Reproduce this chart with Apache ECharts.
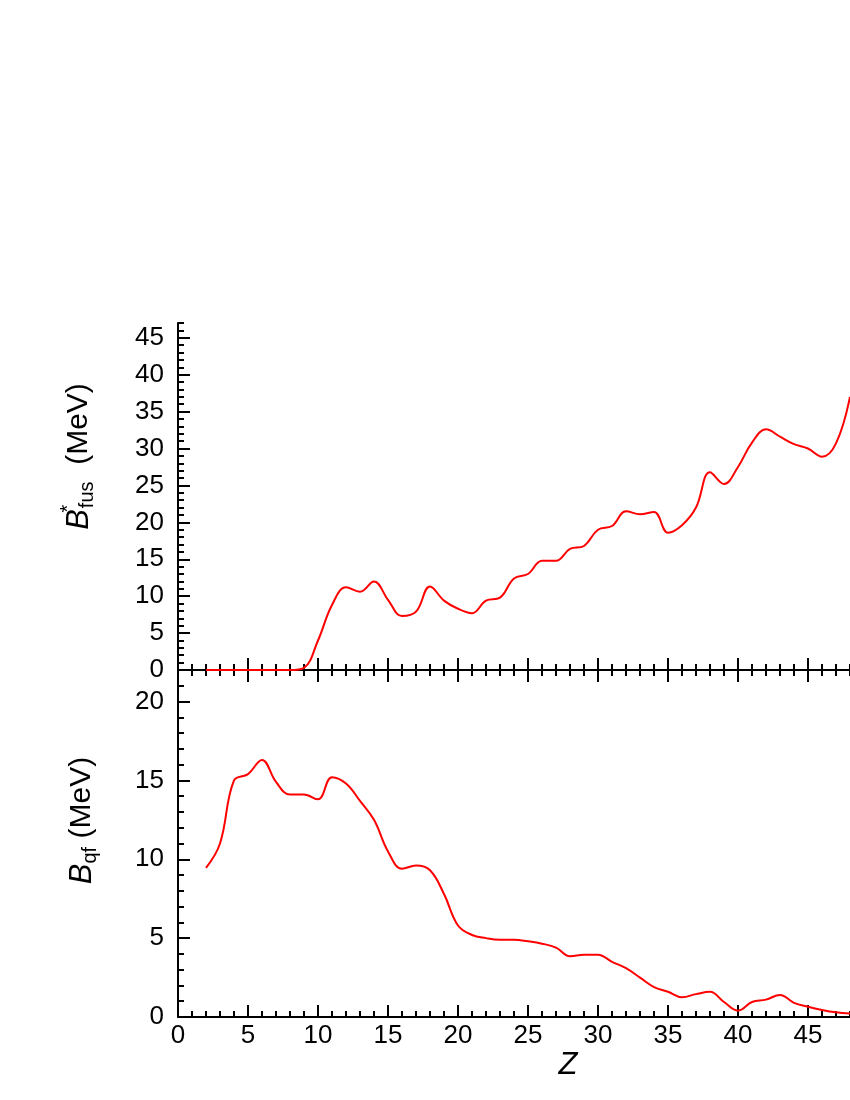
<!DOCTYPE html>
<html>
<head>
<meta charset="utf-8">
<script src="https://cdn.jsdelivr.net/npm/echarts@6/dist/echarts.min.js"></script>
<style>html,body{margin:0;padding:0;background:#fff;}#c{width:850px;height:1100px;}</style>
</head>
<body>
<div id="c"></div>
<script>
// ---- data ----
const zValues = [2,3,4,5,6,7,8,9,10,11,12,13,14,15,16,17,18,19,20,21,22,23,24,25,26,27,28,29,30,31,32,33,34,35,36,37,38,39,40,41,42,43,44,45,46,47,48];
const fusValues = [0,0,0,0,0,0,0,0.3,4.0,8.8,11.2,10.6,12.0,9.5,7.3,7.9,11.3,9.4,8.3,7.7,9.4,9.8,12.4,13.0,14.8,14.8,16.4,16.8,19.0,19.5,21.5,21.1,21.4,18.6,19.6,22.0,26.8,25.2,27.5,30.8,32.6,31.6,30.6,30.0,28.9,30.7,37.0];
const qfValues = [9.45,11.0,15.0,15.4,16.3,14.9,14.1,14.1,13.8,15.2,14.8,13.7,12.5,10.5,9.4,9.6,9.3,7.8,5.8,5.2,5.0,4.9,4.9,4.8,4.65,4.4,3.85,3.95,3.95,3.5,3.1,2.5,1.9,1.6,1.25,1.45,1.6,0.95,0.4,0.95,1.1,1.4,0.9,0.65,0.45,0.3,0.22];
const xTickLabels = [0,5,10,15,20,25,30,35,40,45];
const fusTickLabels = [0,5,10,15,20,25,30,35,40,45];
const qfTickLabels = [0,5,10,15,20];
const fusMax = 47, qfMax = 22, zMax = 50;

const FONT = 'Liberation Sans, Arial, Helvetica, sans-serif';
const BLACK = '#000';
const chart = echarts.init(document.getElementById('c'), null, {renderer:'canvas'});

// layout (pixels)
const L = 178, W = 700, H = 347, TOP0 = 323, TOP1 = 670;
const lastFus = fusTickLabels[fusTickLabels.length-1];
const lastQf = qfTickLabels[qfTickLabels.length-1];
const hMajor0 = H * lastFus / fusMax;
const hMajor1 = H * lastQf / qfMax;

const lineSt = {color: BLACK, width: 2};
const hiddenLine = {show:true, onZero:false, lineStyle:{color:'rgba(0,0,0,0)', width:2}};
function xAx(grid, opts) {
  return Object.assign({
    type:'value', gridIndex:grid, position:'bottom', min:0, max:zMax, interval:5,
    axisLine:{show:true, onZero:false, lineStyle:lineSt},
    axisTick:{show:true, inside:true, length:12, lineStyle:lineSt},
    minorTick:{show:true, splitNumber:5, length:6, lineStyle:lineSt},
    axisLabel:{show:false},
    splitLine:{show:false}, minorSplitLine:{show:false}
  }, opts);
}
const rich = {
  b:{fontFamily:FONT, fontSize:31, fontStyle:'italic', color:BLACK},
  sup:{fontFamily:FONT, fontSize:20, color:BLACK, padding:[0,0,22,0], width:1},
  sub:{fontFamily:FONT, fontSize:20, color:BLACK, padding:[16,0,0,0]},
  t:{fontFamily:FONT, fontSize:30, color:BLACK}
};
const grids = [
  {left:L, top:TOP0, width:W, height:H},
  {left:L, top:TOP1, width:W, height:H},
  {left:L, top:TOP1 - hMajor0, width:W, height:hMajor0},
  {left:L, top:TOP1 + H - hMajor1, width:W, height:hMajor1}
].map(g => Object.assign(g, {containLabel:false, outerBoundsMode:'none'}));

const option = {
  animation:false,
  backgroundColor:'#fff',
  grid: grids,
  xAxis:[
    xAx(0, {}),
    xAx(0, {axisLine:hiddenLine, axisTick:{show:true, inside:false, length:12, lineStyle:lineSt}}),
    xAx(1, {
      axisLabel:{show:true, fontFamily:FONT, fontSize:26, color:BLACK, margin:6,
        formatter:v=> (xTickLabels.indexOf(v) >= 0 ? String(v) : '')},
      name:'Z', nameLocation:'middle', nameGap:32,
      nameTextStyle:{fontFamily:FONT, fontSize:31, fontStyle:'italic', color:BLACK, padding:[0,0,0,80]}
    }),
    {type:'value', gridIndex:2, min:0, max:zMax, show:false},
    {type:'value', gridIndex:3, min:0, max:zMax, show:false}
  ],
  yAxis:[
    {type:'value', gridIndex:0, position:'left', min:0, max:fusMax, interval:1,
      axisLine:{show:true, onZero:false, lineStyle:lineSt},
      axisTick:{show:true, inside:true, length:6, lineStyle:lineSt},
      axisLabel:{show:true, fontFamily:FONT, fontSize:26, color:BLACK, margin:14,
        formatter:v=> (fusTickLabels.indexOf(v) >= 0 ? String(v) : '')},
      splitLine:{show:false},
      name:'{b|B}{sup|*}{sub|fus}{t|  (MeV)}', nameLocation:'middle', nameGap:78,
      nameTextStyle:{rich:rich, padding:[0,0,0,80]}
    },
    {type:'value', gridIndex:1, position:'left', min:0, max:qfMax, interval:1,
      axisLine:{show:true, onZero:false, lineStyle:lineSt},
      axisTick:{show:true, inside:true, length:6, lineStyle:lineSt},
      axisLabel:{show:true, fontFamily:FONT, fontSize:26, color:BLACK, margin:14,
        formatter:v=> (qfTickLabels.indexOf(v) >= 0 ? String(v) : '')},
      splitLine:{show:false},
      name:'{b|B}{sub|qf}{t| (MeV)}', nameLocation:'middle', nameGap:78,
      nameTextStyle:{rich:rich, padding:[0,0,0,46]}
    },
    {type:'value', gridIndex:2, position:'left', min:0, max:lastFus, interval:5,
      axisLine:hiddenLine,
      axisTick:{show:true, inside:true, length:12, lineStyle:lineSt},
      axisLabel:{show:false}, splitLine:{show:false}
    },
    {type:'value', gridIndex:3, position:'left', min:0, max:lastQf, interval:5,
      axisLine:hiddenLine,
      axisTick:{show:true, inside:true, length:12, lineStyle:lineSt},
      axisLabel:{show:false}, splitLine:{show:false}
    }
  ],
  series:[
    {type:'line', xAxisIndex:0, yAxisIndex:0, showSymbol:false, symbol:'none', smooth:0.4,
      lineStyle:{color:'#ff0000', width:2}, data:zValues.map((z,i)=>[z, fusValues[i]]), z:1},
    {type:'line', xAxisIndex:2, yAxisIndex:1, showSymbol:false, symbol:'none', smooth:0.4,
      lineStyle:{color:'#ff0000', width:2}, data:zValues.map((z,i)=>[z, qfValues[i]]), z:1}
  ]
};
chart.setOption(option);
</script>
</body>
</html>
